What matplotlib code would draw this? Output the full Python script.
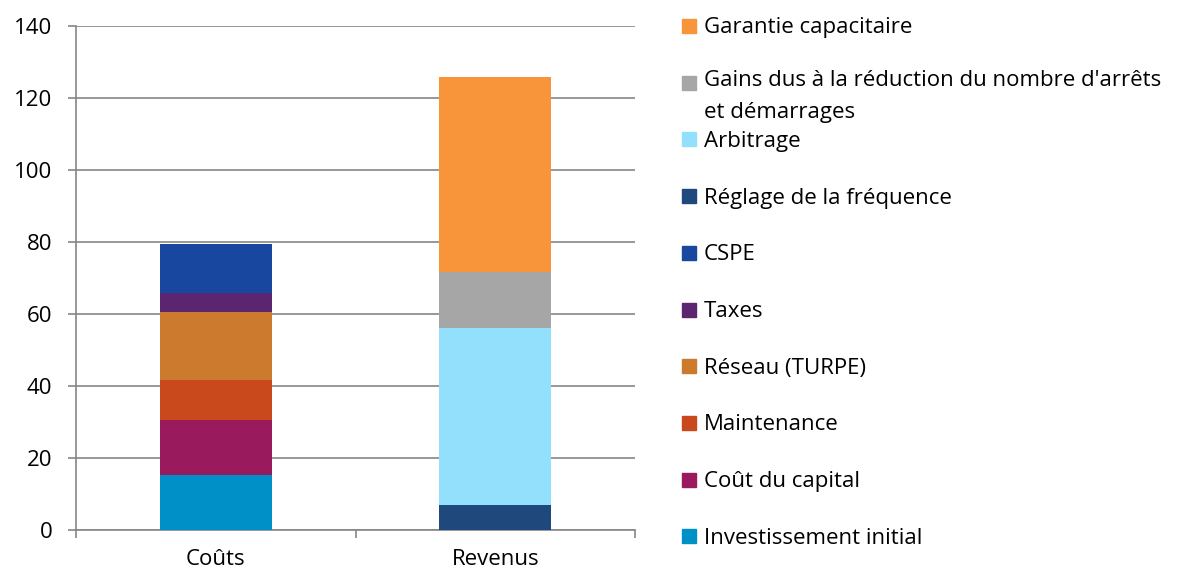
import matplotlib.pyplot as plt
from matplotlib.patches import Rectangle

plt.rcParams['font.family'] = ['Open Sans', 'DejaVu Sans']

categories = ['Coûts', 'Revenus']

# stacked segments, bottom to top
cout_labels = ['Investissement initial', 'Coût du capital', 'Maintenance',
               'Réseau (TURPE)', 'Taxes', 'CSPE']
cout_values = [15.2, 15.3, 11.1, 18.9, 5.2, 13.7]
cout_colors = ['#0090C8', '#9A1A5E', '#C9491C', '#CC7A2E', '#5B2570', '#17479E']

rev_labels = ['Réglage de la fréquence', 'Arbitrage',
              "Gains dus à la réduction du nombre d'arrêts\net démarrages",
              'Garantie capacitaire']
rev_values = [6.9, 49.1, 15.6, 54.2]
rev_colors = ['#1F497D', '#93E0FD', '#A6A6A6', '#F8943A']

yticks = [0, 20, 40, 60, 80, 100, 120, 140]

fs = 16
fig = plt.figure(figsize=(11.85, 5.72), dpi=100)
ax = fig.add_axes([76 / 1185, 1 - 529.7 / 572, (635 - 76) / 1185, (529.7 - 26) / 572])

bottom = 0
for v, c in zip(cout_values, cout_colors):
    ax.bar(0, v, bottom=bottom, width=0.4, color=c, zorder=3)
    bottom += v
bottom = 0
for v, c in zip(rev_values, rev_colors):
    ax.bar(1, v, bottom=bottom, width=0.4, color=c, zorder=3)
    bottom += v

ax.set_xlim(-0.5, 1.5)
ax.set_ylim(0, 140)
ax.set_yticks(yticks)
ax.set_xticks([0, 1])
ax.set_xticklabels(categories)
ax.set_xticks([-0.5, 0.5, 1.5], minor=True)
ax.tick_params(axis='x', which='major', length=0, pad=14, labelsize=fs)
ax.tick_params(axis='x', which='minor', length=6, color='#868686', width=1.2)
ax.tick_params(axis='y', length=6, color='#868686', width=1.2, pad=11, labelsize=fs)
ax.grid(axis='y', color='#868686', linewidth=1.2, zorder=0)
for s in ['top', 'right']:
    ax.spines[s].set_visible(False)
for s in ['left', 'bottom']:
    ax.spines[s].set_color('#868686')
    ax.spines[s].set_linewidth(1.2)

# legend, top to bottom
leg_labels = rev_labels[::-1] + cout_labels[::-1]
leg_colors = rev_colors[::-1] + cout_colors[::-1]
y0 = 26
step = 56.7
for i, (lab, col) in enumerate(zip(leg_labels, leg_colors)):
    yc = y0 + i * step
    fig.patches.append(Rectangle((682 / 1185, 1 - (yc + 7) / 572), 14 / 1185, 14 / 572,
                                 transform=fig.transFigure, color=col))
    if '\n' in lab:
        fig.text(704 / 1185, 1 - (yc - 13) / 572, lab, fontsize=fs, va='top',
                 linespacing=1.7)
    else:
        fig.text(704 / 1185, 1 - (yc + 2) / 572, lab, fontsize=fs, va='center')

fig.savefig('out.png', dpi=100)
